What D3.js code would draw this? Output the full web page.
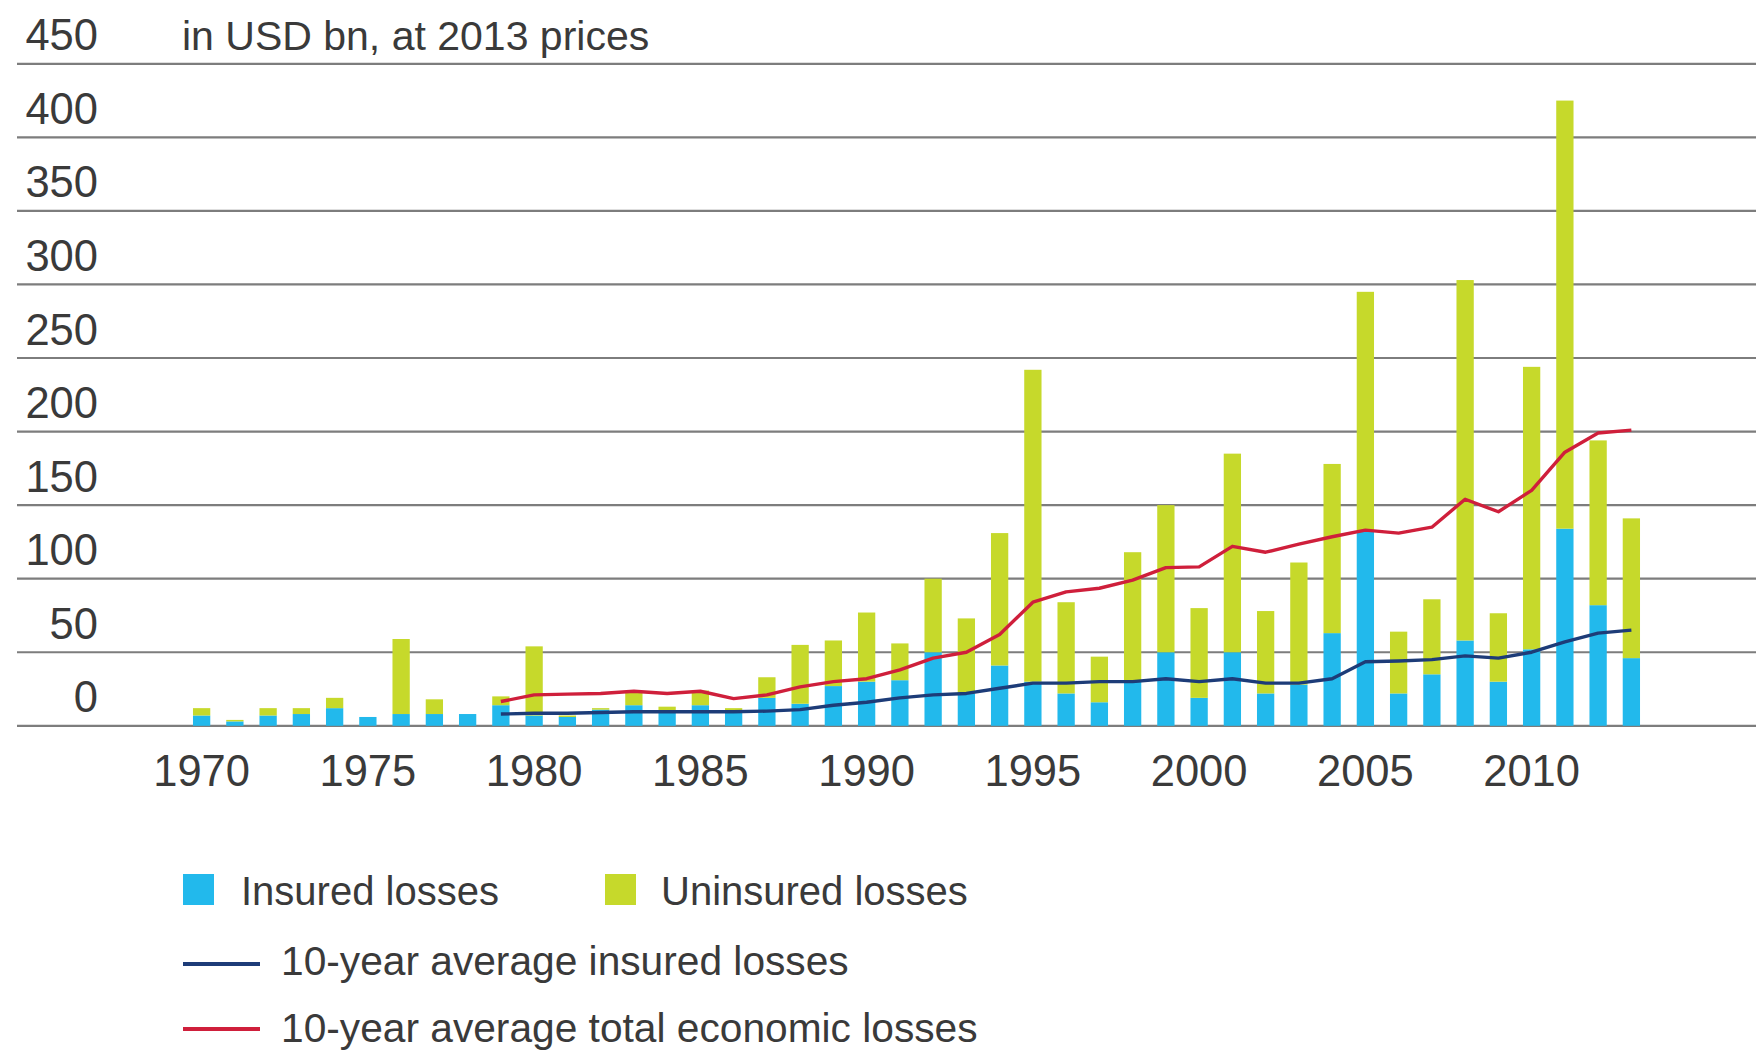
<!DOCTYPE html>
<html>
<head>
<meta charset="utf-8">
<script src="https://cdn.jsdelivr.net/npm/d3@7"></script>
<style>
  html, body { margin: 0; padding: 0; background: #ffffff; }
  svg { display: block; }
  text { font-family: "Liberation Sans", Arial, Helvetica, sans-serif; fill: #3a3a3a; }
</style>
</head>
<body>
<svg id="chart" width="1756" height="1052"></svg>
<script>
// ---- Data (USD bn, 2013 prices) ----
const years = d3.range(1970, 2014);
const insured = [
  7, 3, 7, 8, 12, 6, 8, 8, 8, 14,
  7, 6, 11, 14, 10, 14, 10, 19, 15, 27,
  30, 31, 50, 22, 41, 30, 22, 16, 30, 50,
  19, 50, 22, 28, 63, 132, 22, 35, 58, 30,
  52, 134, 82, 46
];
const uninsured = [
  5, 1, 5, 4, 7, 0, 51, 10, 0, 6,
  47, 1, 1, 9, 3, 10, 2, 14, 40, 31,
  47, 25, 50, 51, 90, 212, 62, 31, 88, 100,
  61, 135, 56, 83, 115, 163, 42, 51, 245, 46.5,
  192, 291, 112, 95
];
const avgYears = d3.range(1979, 2014);
const avgInsured = [
  8, 8.5, 8.5, 9, 9.5, 9.5, 9.5, 9.5, 10, 11,
  14, 16, 19, 21, 22, 25.5, 29, 29, 30, 30,
  32, 30, 32, 29, 29, 32, 43.5, 44, 45, 47.5,
  46, 50, 57, 63, 65
];
const avgTotal = [
  16.5, 21, 21.5, 22, 23.5, 22, 23.5, 18.5, 21, 26.5,
  30, 32, 38, 46, 50, 62, 84, 91, 93.5, 99,
  107.5, 108, 122, 118, 123.5, 128.5, 133, 131, 135, 154,
  145.5, 160, 186, 199, 201
];
const yTicks = [0, 50, 100, 150, 200, 250, 300, 350, 400, 450];
const xTickYears = [1970, 1975, 1980, 1985, 1990, 1995, 2000, 2005, 2010];
const unitLabel = "in USD bn, at 2013 prices";
const seriesNames = ["Insured losses", "Uninsured losses", "10-year average insured losses", "10-year average total economic losses"];

// ---- Colours ----
const cInsured = "#22b9ec";
const cUninsured = "#c6d92b";
const cAvgIns = "#1d3c78";
const cAvgTot = "#cf1f3b";
const cGrid = "#7d7d7d";

const svg = d3.select("#chart");
const FS = 41;       // title
const FS_NUM = 43.5; // tick numbers
const FS_LEG = 40;   // legend row 1
const FS_LEG2 = 40.7; // legend line rows

const y = d3.scaleLinear().domain([0, 450]).range([725.8, 63.8]);
const x = d3.scaleBand().domain(years).range([185, 1648]).paddingInner(0.48).paddingOuter(0.24);
const cx = yr => x(yr) + x.bandwidth() / 2;

// gridlines
svg.append("g").selectAll("line").data(yTicks).join("line")
  .attr("x1", 17).attr("x2", 1756)
  .attr("y1", d => y(d)).attr("y2", d => y(d))
  .attr("stroke", cGrid).attr("stroke-width", 2.2);

// y axis labels (sit above their gridlines)
const yAxis = d3.axisLeft(y).tickValues(yTicks).tickSize(0).tickPadding(0);
const gy = svg.append("g").attr("transform", "translate(98,0)").call(yAxis);
gy.select(".domain").remove();
gy.selectAll("text").attr("font-size", FS_NUM).attr("dy", -14).attr("text-anchor", "end")
  .style("font-family", "'Liberation Sans', Arial, sans-serif").attr("fill", "#3a3a3a");

svg.append("text").attr("x", 182).attr("y", y(450) - 14).attr("font-size", FS).text(unitLabel);

// stacked bars
const rows = years.map((yr, i) => ({ year: yr, insured: insured[i], uninsured: uninsured[i] }));
const stack = d3.stack().keys(["insured", "uninsured"])(rows);
const colors = { insured: cInsured, uninsured: cUninsured };
svg.append("g").selectAll("g").data(stack).join("g")
  .attr("fill", d => colors[d.key])
  .selectAll("rect").data(d => d).join("rect")
  .attr("x", d => x(d.data.year))
  .attr("width", x.bandwidth())
  .attr("y", d => y(d[1]))
  .attr("height", d => Math.max(0, y(d[0]) - y(d[1])));

// lines
const line = d3.line().x(d => cx(d[0])).y(d => y(d[1]));
svg.append("path").datum(avgYears.map((yr, i) => [yr, avgInsured[i]]))
  .attr("d", line).attr("fill", "none").attr("stroke", cAvgIns).attr("stroke-width", 3.4)
  .attr("stroke-linejoin", "round");
svg.append("path").datum(avgYears.map((yr, i) => [yr, avgTotal[i]]))
  .attr("d", line).attr("fill", "none").attr("stroke", cAvgTot).attr("stroke-width", 3.4)
  .attr("stroke-linejoin", "round");

// x axis
const xAxis = d3.axisBottom(x).tickValues(xTickYears).tickSize(0).tickPadding(0);
const gx = svg.append("g").attr("transform", "translate(0,786)").call(xAxis);
gx.select(".domain").remove();
gx.selectAll("text").attr("font-size", FS_NUM).attr("dy", 0)
  .style("font-family", "'Liberation Sans', Arial, sans-serif").attr("fill", "#3a3a3a");

// legend
const leg = svg.append("g");
leg.append("rect").attr("x", 183).attr("y", 874).attr("width", 31).attr("height", 31).attr("fill", cInsured);
leg.append("text").attr("x", 241).attr("y", 905).attr("font-size", FS_LEG).text(seriesNames[0]);
leg.append("rect").attr("x", 605).attr("y", 874).attr("width", 31).attr("height", 31).attr("fill", cUninsured);
leg.append("text").attr("x", 661).attr("y", 905).attr("font-size", FS_LEG).text(seriesNames[1]);
leg.append("line").attr("x1", 183).attr("x2", 260).attr("y1", 964).attr("y2", 964).attr("stroke", cAvgIns).attr("stroke-width", 4);
leg.append("text").attr("x", 281).attr("y", 975).attr("font-size", FS_LEG2).text(seriesNames[2]);
leg.append("line").attr("x1", 183).attr("x2", 260).attr("y1", 1029).attr("y2", 1029).attr("stroke", cAvgTot).attr("stroke-width", 4);
leg.append("text").attr("x", 281).attr("y", 1042).attr("font-size", FS_LEG2).text(seriesNames[3]);
</script>
</body>
</html>
